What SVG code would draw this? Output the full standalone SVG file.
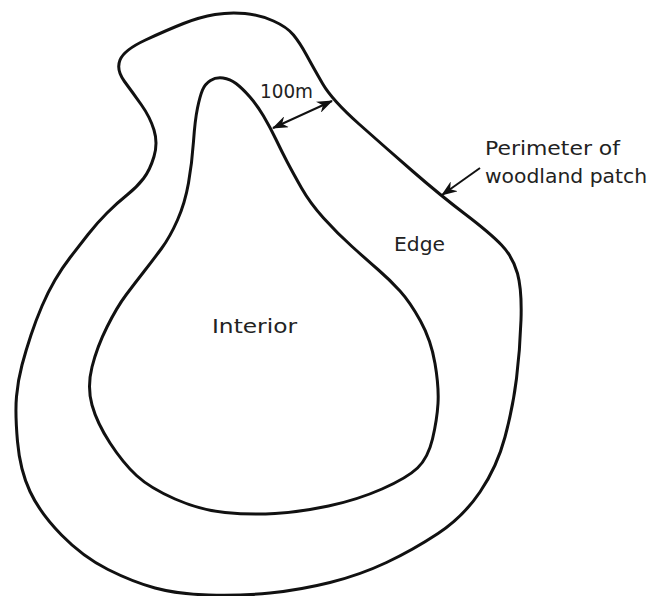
<svg xmlns="http://www.w3.org/2000/svg" width="660" height="596" viewBox="0 0 660 596">
<defs>
<style>
.outline{fill:none;stroke:#111;stroke-width:3;stroke-linejoin:round;stroke-linecap:round}
.conn{fill:none;stroke:#111;stroke-width:2}
.lbl{font-family:"DejaVu Sans","Liberation Sans",sans-serif;font-size:20px;fill:#222}
</style>
<marker id="ah" viewBox="0 0 16 12" refX="15" refY="6" markerWidth="16" markerHeight="12" markerUnits="userSpaceOnUse" orient="auto-start-reverse">
<path d="M0,0 L16,6 L0,12 L5,6 Z" fill="#111"/>
</marker>
</defs>
<rect width="660" height="596" fill="#fff"/>
<g id="perimeter">
<path class="outline" d="M215,14.5 Q230,12 245,13.5 Q260,15 273.5,21 Q287,27 293.5,35 Q300,43 306.5,55 Q313,67 322.5,83.5 Q332,100 359,124 Q386,148 413,171.5 Q440,195 465,214 Q490,233 501.5,245 Q513,257 517.5,273.5 Q522,290 521,320 Q520,350 516.5,378.5 Q513,407 505,437 Q497,467 480,492 Q463,517 438,533.5 Q413,550 386.5,562.5 Q360,575 330,582.5 Q300,590 270,593 Q240,596 208.5,595 Q177,594 155,588 Q133,582 108,569.5 Q83,557 61.5,535 Q40,513 30,491.5 Q20,470 17.5,441.5 Q15,413 16.5,396.5 Q18,380 22,365 Q26,350 31,335 Q36,320 42,306 Q48,292 55,280 Q62,268 70.5,257 Q79,246 88,234.5 Q97,223 107,213 Q117,203 127,195 Q137,187 143.5,178.5 Q150,170 154,156.5 Q158,143 154,130 Q150,117 141.5,105 Q133,93 124.5,81.5 Q116,70 120,60 Q124,50 145.5,40 Q167,30 183.5,23.5 Q200,17 215,14.5 Z"/>
</g>
<g id="interior-boundary">
<path class="outline" d="M210.5,80.5 Q216,77 223,78 Q230,79 236,83.5 Q242,88 249.5,96.5 Q257,105 263.5,116 Q270,127 276,139.5 Q282,152 287.5,162.5 Q293,173 301.5,188 Q310,203 323.5,218 Q337,233 352,246.5 Q367,260 378.5,270 Q390,280 400,291 Q410,302 420.5,321 Q431,340 435,363.5 Q439,387 438,403.5 Q437,420 432.5,439 Q428,458 417.5,468 Q407,478 382,489 Q357,500 328.5,506 Q300,512 275,513.5 Q250,515 225,512.5 Q200,510 175,499 Q150,488 136.5,475.5 Q123,463 110,443 Q97,423 92,405 Q87,387 92,367 Q97,347 107,327 Q117,307 126,295 Q135,283 144,271.5 Q153,260 161.5,248.5 Q170,237 177.5,220 Q185,203 188.5,183 Q192,163 193.5,141.5 Q195,120 197.5,108 Q200,96 202.5,90 Q205,84 210.5,80.5 Z"/>
</g>
<g id="connectors">
<line class="conn" x1="273" y1="128" x2="332" y2="101" marker-start="url(#ah)" marker-end="url(#ah)"/>
<line class="conn" x1="480" y1="168" x2="442" y2="195" marker-end="url(#ah)"/>
</g>
<g id="label-100m"><text class="lbl" x="260" y="98" font-size="19" textLength="53" lengthAdjust="spacingAndGlyphs">100m</text></g>
<g id="label-perimeter">
<text class="lbl" x="485" y="155" textLength="135" lengthAdjust="spacingAndGlyphs">Perimeter of</text>
<text class="lbl" x="485" y="183" textLength="162" lengthAdjust="spacingAndGlyphs">woodland patch</text>
</g>
<g id="label-edge"><text class="lbl" x="394" y="251" textLength="51" lengthAdjust="spacingAndGlyphs">Edge</text></g>
<g id="label-interior"><text class="lbl" x="212" y="333" textLength="85" lengthAdjust="spacingAndGlyphs">Interior</text></g>
</svg>
